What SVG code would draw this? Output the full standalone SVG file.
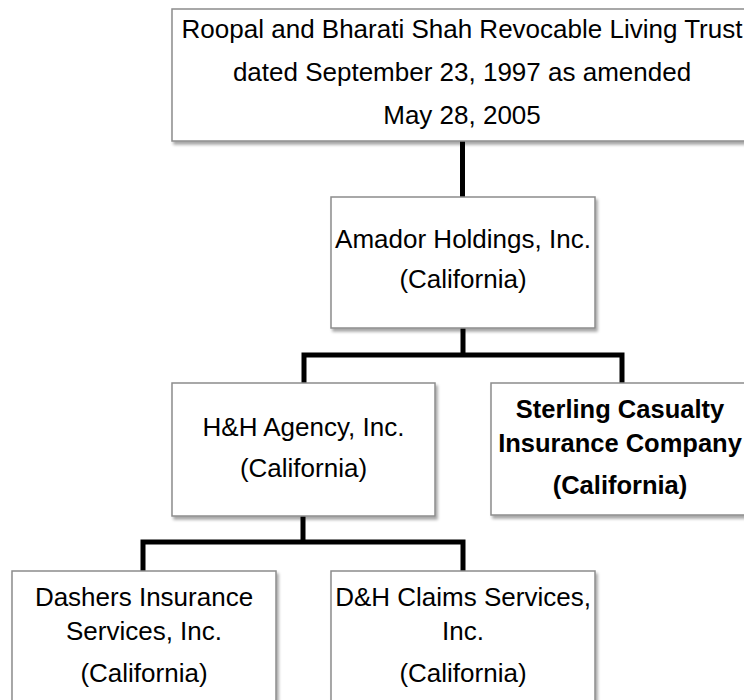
<svg xmlns="http://www.w3.org/2000/svg" width="744" height="700" viewBox="0 0 744 700">
  <style>
    .box { fill: #ffffff; stroke: #8c8c8c; stroke-width: 1.5; filter: url(#shadow); }
    .conn { fill: none; stroke: #000000; stroke-width: 5; stroke-linejoin: miter; stroke-linecap: butt; }
    text { font-family: "Liberation Sans", Arial, sans-serif; font-size: 26px; fill: #000000; text-anchor: middle; }
    .bold { font-weight: bold; font-size: 25.5px; }
  </style>
  <defs>
    <filter id="shadow" x="-10%" y="-10%" width="130%" height="130%">
      <feDropShadow dx="2" dy="3" stdDeviation="1.8" flood-color="#000000" flood-opacity="0.35"/>
    </filter>
  </defs>
  <rect width="744" height="700" fill="#ffffff"/>

  <g id="connectors">
    <path class="conn" d="M462.5,141 V197"/>
    <path class="conn" d="M463,328 V355 M304,383 V355 H622 V383"/>
    <path class="conn" d="M303,516 V542 M143,571 V542 H463 V571"/>
  </g>

  <g id="trust">
    <rect class="box" x="172" y="9" width="580" height="132"/>
    <text x="462" y="38">Roopal and Bharati Shah Revocable Living Trust</text>
    <text x="462" y="81">dated September 23, 1997 as amended</text>
    <text x="462" y="124">May 28, 2005</text>
  </g>

  <g id="amador">
    <rect class="box" x="331" y="197" width="264" height="131"/>
    <text x="463" y="248">Amador Holdings, Inc.</text>
    <text x="463" y="288">(California)</text>
  </g>

  <g id="hh-agency">
    <rect class="box" x="172" y="383" width="263" height="133"/>
    <text x="303.5" y="436">H&amp;H Agency, Inc.</text>
    <text x="303.5" y="477">(California)</text>
  </g>

  <g id="sterling">
    <rect class="box" x="491" y="383" width="262" height="132"/>
    <text class="bold" x="620" y="418">Sterling Casualty</text>
    <text class="bold" x="620" y="452">Insurance Company</text>
    <text class="bold" x="620" y="494">(California)</text>
  </g>

  <g id="dashers">
    <rect class="box" x="12" y="571" width="264" height="150"/>
    <text x="144" y="606">Dashers Insurance</text>
    <text x="144" y="640">Services, Inc.</text>
    <text x="144" y="682">(California)</text>
  </g>

  <g id="dh-claims">
    <rect class="box" x="331" y="571" width="264" height="150"/>
    <text x="463" y="606">D&amp;H Claims Services,</text>
    <text x="463" y="640">Inc.</text>
    <text x="463" y="682">(California)</text>
  </g>
</svg>
